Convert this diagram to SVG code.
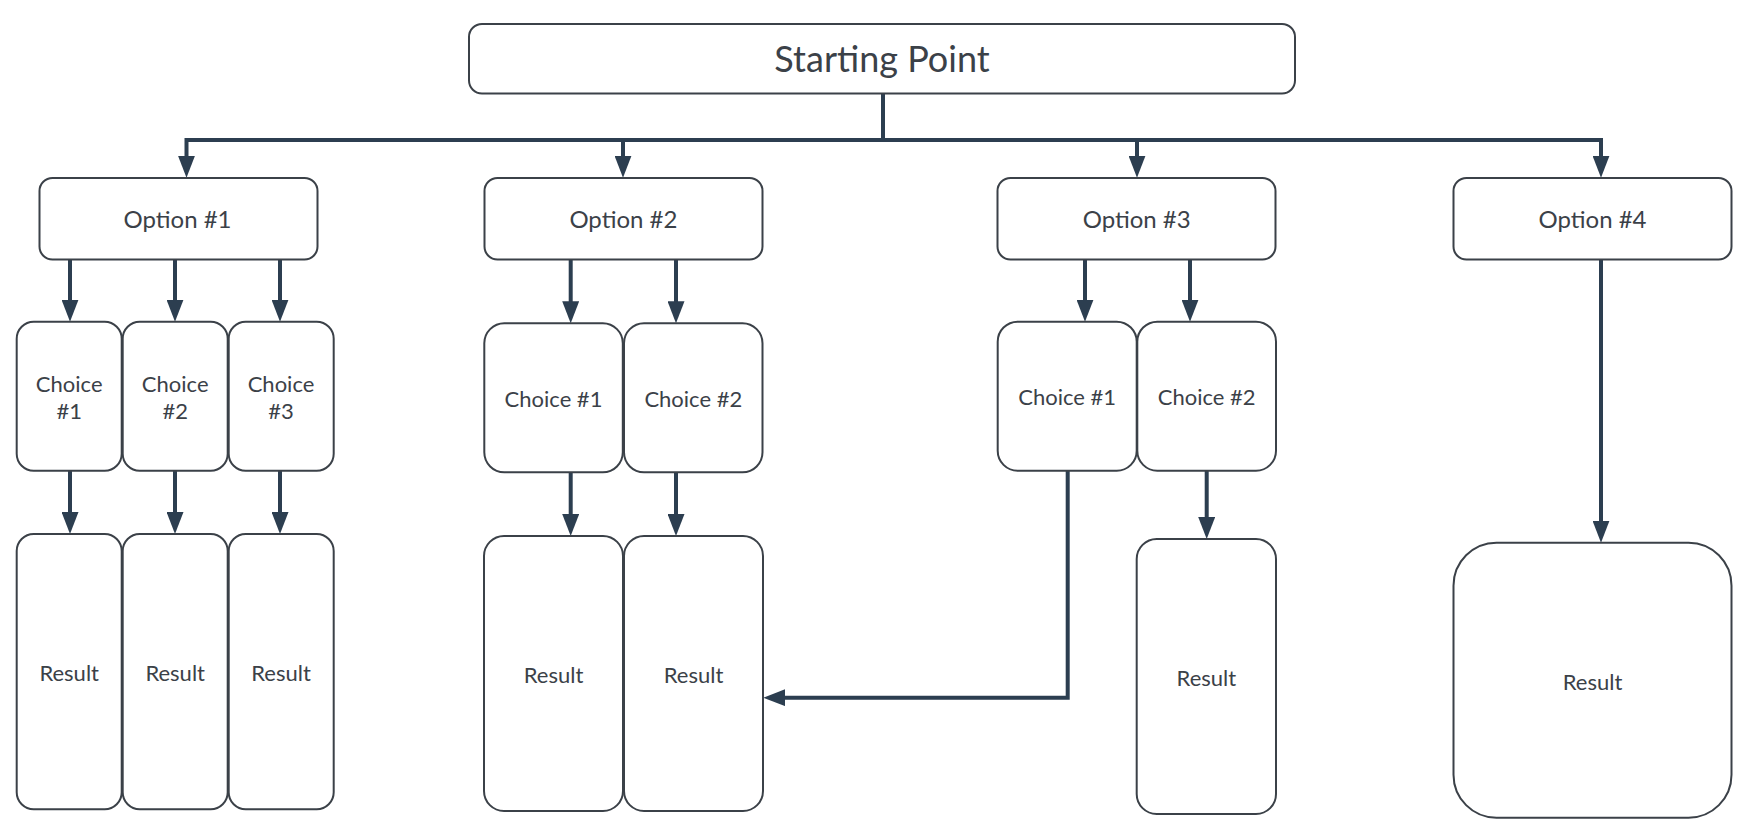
<svg xmlns="http://www.w3.org/2000/svg" width="1751" height="833" viewBox="0 0 1751 833">
<style>
.box{fill:#ffffff;stroke:#3b4148;stroke-width:2}
.lbl{font-family:Lato,"Noto Sans","Liberation Sans",sans-serif;fill:#3b4148;text-anchor:middle}
.t36{font-size:36px}
.t24{font-size:24px}
.t22{font-size:22px}
.con{fill:none;stroke:#2c3e50;stroke-width:4;stroke-linejoin:miter}
.arr{marker-end:url(#ah)}
</style>
<defs>
<marker id="ah" markerUnits="userSpaceOnUse" markerWidth="22" markerHeight="17" viewBox="0 0 22 17" refX="12" refY="8.5" orient="auto">
<path d="M0,0 L22,8.5 L0,17 Z" fill="#2c3e50"/>
</marker>
</defs>
<rect width="1751" height="833" fill="#ffffff"/>
<g id="connectors">
<path class="con" d="M883,93 V140"/>
<path class="con arr" d="M883,140 H186.5 V167.7"/>
<path class="con arr" d="M883,140 H1601 V167.7"/>
<path class="con arr" d="M623,140 V167.7"/>
<path class="con arr" d="M1137,140 V167.7"/>
<path class="con arr" d="M70,259 V311.7"/>
<path class="con arr" d="M175,259 V311.7"/>
<path class="con arr" d="M280,259 V311.7"/>
<path class="con arr" d="M570.7,259 V313.3"/>
<path class="con arr" d="M676,259 V313.3"/>
<path class="con arr" d="M1085,259 V311.7"/>
<path class="con arr" d="M1190,259 V311.7"/>
<path class="con arr" d="M70,470.7 V524"/>
<path class="con arr" d="M175,470.7 V524"/>
<path class="con arr" d="M280,470.7 V524"/>
<path class="con arr" d="M570.7,472.3 V526"/>
<path class="con arr" d="M676,472.3 V526"/>
<path class="con arr" d="M1206.7,470.7 V529"/>
<path class="con arr" d="M1067.7,470.7 V697.7 H773.3"/>
<path class="con arr" d="M1601,259.3 V532.7"/>
</g>
<g id="start">
<rect class="box" x="469" y="24" width="826" height="69.5" rx="13"/>
<text class="lbl t36" x="882" y="72">Starting Point</text>
</g>
<g id="option1">
<rect class="box" x="39.5" y="178" width="278" height="81.5" rx="13"/>
<text class="lbl t24" x="177.5" y="227.5">Option #1</text>
</g>
<g id="option2">
<rect class="box" x="484.5" y="178" width="278" height="81.5" rx="13"/>
<text class="lbl t24" x="623.4" y="227.5">Option #2</text>
</g>
<g id="option3">
<rect class="box" x="997.5" y="178" width="278" height="81.5" rx="13"/>
<text class="lbl t24" x="1136.7" y="227.5">Option #3</text>
</g>
<g id="option4">
<rect class="box" x="1453.5" y="178" width="278" height="81.5" rx="13"/>
<text class="lbl t24" x="1592.5" y="227.5">Option #4</text>
</g>
<g id="o1-choice1">
<rect class="box" x="16.7" y="321.7" width="105" height="149" rx="17"/>
<text class="lbl t22" x="69.2" y="392">Choice</text>
<text class="lbl t22" x="69.2" y="418.5">#1</text>
</g>
<g id="o1-choice2">
<rect class="box" x="122.7" y="321.7" width="105" height="149" rx="17"/>
<text class="lbl t22" x="175.2" y="392">Choice</text>
<text class="lbl t22" x="175.2" y="418.5">#2</text>
</g>
<g id="o1-choice3">
<rect class="box" x="228.7" y="321.7" width="105" height="149" rx="17"/>
<text class="lbl t22" x="281" y="392">Choice</text>
<text class="lbl t22" x="281" y="418.5">#3</text>
</g>
<g id="o2-choice1">
<rect class="box" x="484.3" y="323.3" width="138.5" height="149" rx="20"/>
<text class="lbl t22" x="553.5" y="406.7">Choice #1</text>
</g>
<g id="o2-choice2">
<rect class="box" x="624" y="323.3" width="138.5" height="149" rx="20"/>
<text class="lbl t22" x="693.3" y="406.7">Choice #2</text>
</g>
<g id="o3-choice1">
<rect class="box" x="997.7" y="321.7" width="139" height="149" rx="20"/>
<text class="lbl t22" x="1067.2" y="405">Choice #1</text>
</g>
<g id="o3-choice2">
<rect class="box" x="1137.3" y="321.7" width="138.7" height="149" rx="20"/>
<text class="lbl t22" x="1206.7" y="405">Choice #2</text>
</g>
<g id="o1-result1">
<rect class="box" x="16.7" y="534" width="105" height="275.3" rx="17"/>
<text class="lbl t22" x="69.2" y="681">Result</text>
</g>
<g id="o1-result2">
<rect class="box" x="122.7" y="534" width="105" height="275.3" rx="17"/>
<text class="lbl t22" x="175.2" y="681">Result</text>
</g>
<g id="o1-result3">
<rect class="box" x="228.7" y="534" width="105" height="275.3" rx="17"/>
<text class="lbl t22" x="281" y="681">Result</text>
</g>
<g id="o2-result1">
<rect class="box" x="484" y="536" width="139" height="275" rx="20"/>
<text class="lbl t22" x="553.5" y="683">Result</text>
</g>
<g id="o2-result2">
<rect class="box" x="624" y="536" width="139" height="275" rx="20"/>
<text class="lbl t22" x="693.5" y="683">Result</text>
</g>
<g id="o3-result2">
<rect class="box" x="1136.7" y="539" width="139.3" height="275" rx="20"/>
<text class="lbl t22" x="1206.4" y="686">Result</text>
</g>
<g id="o4-result">
<rect class="box" x="1453.5" y="542.7" width="278" height="275" rx="43"/>
<text class="lbl t22" x="1592.5" y="690">Result</text>
</g>
</svg>
